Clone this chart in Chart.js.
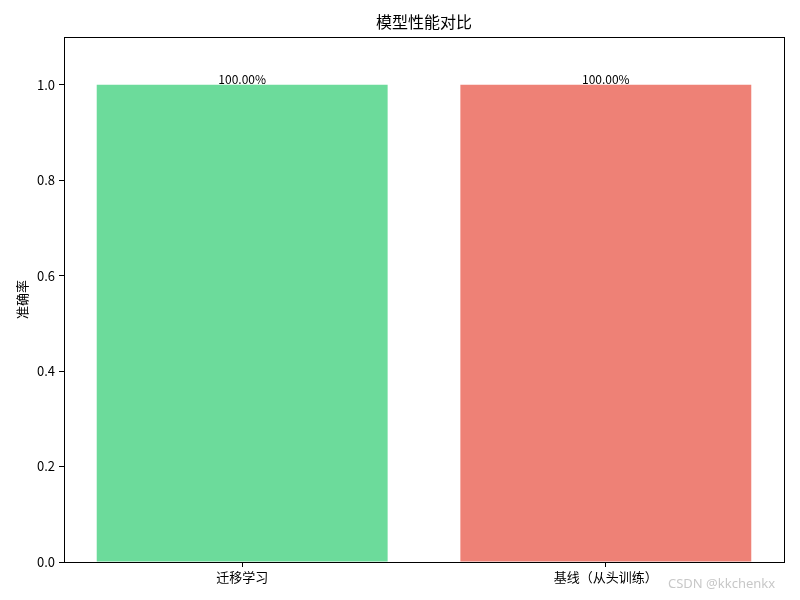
<!DOCTYPE html>
<html><head><meta charset="utf-8">
<script src="https://cdn.jsdelivr.net/npm/chart.js@4/dist/chart.umd.min.js"></script>
<style>html,body{margin:0;padding:0;background:#fff;}#wrap{position:relative;width:800px;height:600px;}
#wm{position:absolute;left:668px;top:574px;font-family:"Noto Sans","DejaVu Sans",sans-serif;font-size:13px;color:#c8c8c8;}</style>
</head><body><div id="wrap"><canvas id="c" width="800" height="600"></canvas><div id="wm">CSDN @kkchenkx</div></div>
<script>
const categories = ["迁移学习", "基线（从头训练）"];
const accuracy = [1.0, 1.0];
const barColors = ["rgba(46,204,113,0.7)", "rgba(231,76,60,0.7)"];
const yTicks = [0.0, 0.2, 0.4, 0.6, 0.8, 1.0];
const chartTitle = '模型性能对比';
const FONT = '"Noto Sans CJK SC", "DejaVu Sans", sans-serif';

const frame = {
  id: 'frame',
  afterDraw(chart) {
    const {ctx, chartArea: a} = chart;
    ctx.save(); ctx.strokeStyle = '#000'; ctx.lineWidth = 1;
    ctx.strokeRect(Math.round(a.left)+0.5, Math.round(a.top)+0.5, Math.round(a.right-a.left), Math.round(a.bottom-a.top));
    ctx.fillStyle = '#000'; ctx.font = '16px ' + FONT;
    ctx.textAlign = 'center'; ctx.textBaseline = 'middle';
    ctx.fillText(chartTitle, (a.left + a.right) / 2, 22);
    ctx.restore();
  }
};
const labels = {
  id: 'labels',
  afterDatasetsDraw(chart) {
    const {ctx} = chart;
    const meta = chart.getDatasetMeta(0);
    ctx.save(); ctx.fillStyle = '#000'; ctx.font = '12px ' + FONT;
    ctx.textAlign = 'center'; ctx.textBaseline = 'bottom';
    meta.data.forEach((bar, i) => {
      ctx.fillText((accuracy[i]*100).toFixed(2) + '%', bar.x, bar.y + 1);
    });
    ctx.restore();
  }
};

new Chart(document.getElementById('c'), {
  type: 'bar',
  data: {
    datasets: [{
      data: accuracy.map((v, i) => ({x: i, y: v})),
      backgroundColor: barColors,
      borderWidth: 0,
      barPercentage: 0.8,
      categoryPercentage: 1.0
    }]
  },
  options: {
    responsive: false, animation: false,
    layout: {padding: {left: 14, right: 16, top: 37, bottom: 0}},
    plugins: {
      legend: {display: false}, tooltip: {enabled: false},
      title: {display: false}
    },
    scales: {
      x: {
        type: 'linear', min: -0.49, max: 1.49, offset: false,
        afterBuildTicks(s) { s.ticks = categories.map((_, i) => ({value: i})); },
        afterFit(s) { s.height = 38; },
        ticks: {color: '#000', font: {family: FONT, size: 13}, padding: 2, callback: (v) => categories[v]},
        grid: {display: true, offset: false, drawOnChartArea: false, drawTicks: true, tickLength: 5, color: '#000'},
        border: {display: false}
      },
      y: {
        min: 0, max: 1.1,
        afterBuildTicks(s) { s.ticks = yTicks.map(v => ({value: v})); },
        afterFit(s) { s.width = 50; },
        ticks: {color: '#000', font: {family: FONT, size: 13}, padding: 4, callback: (v) => v.toFixed(1)},
        grid: {display: true, offset: false, drawOnChartArea: false, drawTicks: true, tickLength: 5, color: '#000'},
        border: {display: false},
        title: {display: true, text: '准确率', color: '#000', font: {family: FONT, size: 13}, padding: {top: 0, bottom: 4}}
      }
    }
  },
  plugins: [frame, labels]
});
</script></body></html>
